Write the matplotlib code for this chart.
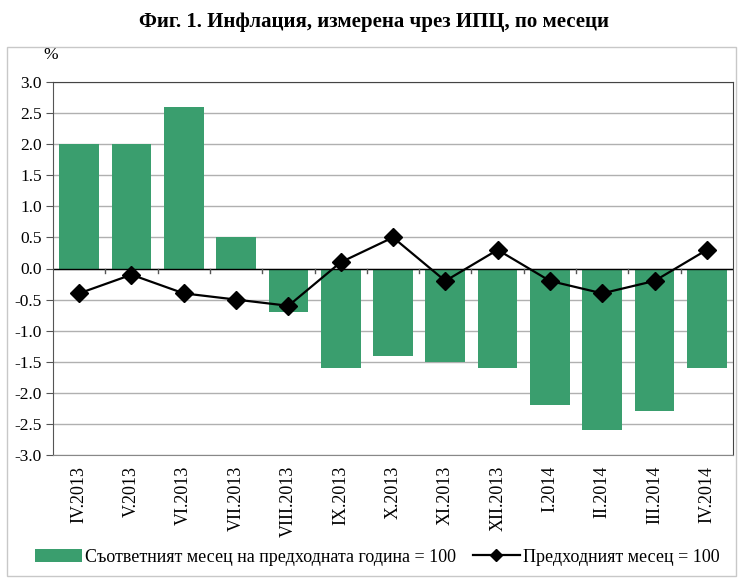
import numpy as np
import matplotlib.pyplot as plt
from matplotlib.patches import Rectangle

months = ['IV.2013', 'V.2013', 'VI.2013', 'VII.2013', 'VIII.2013', 'IX.2013', 'X.2013',
          'XI.2013', 'XII.2013', 'I.2014', 'II.2014', 'III.2014', 'IV.2014']
yoy = [2.0, 2.0, 2.6, 0.5, -0.7, -1.6, -1.4, -1.5, -1.6, -2.2, -2.6, -2.3, -1.6]
mom = [-0.4, -0.1, -0.4, -0.5, -0.6, 0.1, 0.5, -0.2, 0.3, -0.2, -0.4, -0.2, 0.3]

plt.rcParams['font.family'] = ['Liberation Serif', 'DejaVu Serif']

fig = plt.figure(figsize=(7.4, 5.83), dpi=100)
ax = fig.add_axes([53/740, 1 - 455/583, 680/740, 373/583])

x = np.arange(len(months))
bars = ax.bar(x, yoy, width=0.76, color='#3a9e6e', zorder=2,
              label='Съответният месец на предходната година = 100')
line, = ax.plot(x, mom, color='black', lw=1.6, marker='D', markersize=9, zorder=3,
                label='Предходният месец = 100')

ax.set_xlim(-0.5, len(months) - 0.5)
ax.set_ylim(-3.0, 3.0)
ax.set_yticks(np.arange(-3.0, 3.01, 0.5))
ax.set_yticklabels(['%.1f' % v for v in np.arange(-3.0, 3.01, 0.5)], fontsize=12.5)
ax.yaxis.grid(True, color='#b0b0b0', lw=1, zorder=0)
ax.tick_params(axis='y', length=5, color='#555555', pad=3)

# x axis line at zero with ticks between categories
ax.axhline(0, color='black', lw=1, zorder=2.5)
for b in np.arange(0.5, len(months) - 0.5, 1):
    ax.plot([b, b], [0, -0.08], color='#555555', lw=1, zorder=2.5, clip_on=False)
ax.set_xticks(x)
ax.set_xticklabels(months, rotation=90, fontsize=13)
ax.tick_params(axis='x', length=0, pad=8)

for s in ['top', 'right']:
    ax.spines[s].set_color('#444444')
ax.spines['left'].set_color('#555555')
ax.spines['bottom'].set_color('#888888')

fig.text(43/740, 1 - 55/583, '%', fontsize=12.5, ha='left', va='center')
fig.suptitle('Фиг. 1. Инфлация, измерена чрез ИПЦ, по месеци', x=0.505, y=1 - 22/583,
             fontsize=15, fontweight='bold', va='center')

fig.legend([bars, line], [bars.get_label(), line.get_label()],
           loc='center', bbox_to_anchor=(0.51, 1 - 557/583), ncol=2, frameon=False,
           fontsize=13, handlelength=2.6, handletextpad=0.2, columnspacing=0.9,
           markerscale=0.7)

fig.patches.append(Rectangle((7/740, 1 - 576/583), 729/740, 529/583, transform=fig.transFigure,
                             fill=False, edgecolor='#c8c8c8', lw=1))

fig.savefig('out.png', dpi=100)
